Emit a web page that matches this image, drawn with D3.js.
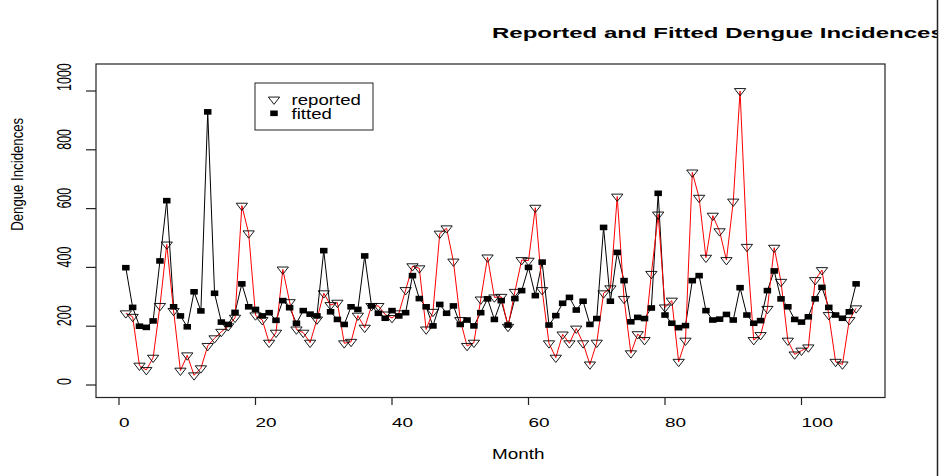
<!DOCTYPE html>
<html><head><meta charset="utf-8">
<script src="https://cdn.jsdelivr.net/npm/d3@7/dist/d3.min.js"></script>
<style>body{margin:0;background:#fff}svg{display:block}text{font-family:"Liberation Sans",Arial,sans-serif;fill:#000}</style>
</head><body>
<script>
const months = d3.range(1, 109);
const reported = [244,232,66,51,93,269,478,252,49,101,33,57,133,159,181,200,229,610,516,237,221,144,178,393,282,189,178,144,223,312,272,280,142,147,236,195,269,269,240,228,244,323,404,397,189,249,515,533,420,221,133,144,291,434,298,300,198,317,425,423,603,323,142,93,172,142,192,142,70,144,312,329,641,293,108,173,153,378,580,264,287,79,151,723,637,433,576,523,425,624,1000,470,153,170,259,467,351,151,104,117,128,357,391,238,79,70,221,261];
const fitted = [399,264,200,196,218,422,627,266,235,198,317,252,929,312,214,206,247,344,266,257,235,246,220,287,263,210,253,241,235,457,249,223,206,266,257,439,269,244,227,253,235,246,372,294,266,201,274,244,269,206,221,201,246,293,223,287,204,294,321,400,304,418,204,236,278,298,255,285,206,226,536,285,451,355,215,230,226,262,652,238,210,195,202,355,372,253,221,224,240,221,331,238,210,219,321,388,293,266,223,214,232,293,332,264,238,227,249,344];
const xTicks = [0,20,40,60,80,100];
const yTicks = [0,200,400,600,800,1000];
const titleText = "Reported and Fitted Dengue Incidences";
const xLabel = "Month", yLabel = "Dengue Incidences";
const legendLabels = ["reported","fitted"];

const W = 942, H = 476;
const svg = d3.select("body").append("svg").attr("width", W).attr("height", H);
const box = {l:96, r:885, t:64, b:397.5};
const x = d3.scaleLinear().domain([0,100]).range([119, 801.5]);
const y = d3.scaleLinear().domain([0,1000]).range([385, 91]);

svg.append("defs").append("clipPath").attr("id","clipT").append("rect").attr("x",0).attr("y",0).attr("width",937).attr("height",H);

// title (cut at the right edge as in the reference)
svg.append("g").attr("clip-path","url(#clipT)")
  .append("text").attr("transform","translate(492,38) scale(1.6,1)")
  .attr("font-size",15).attr("font-weight","bold").text(titleText);

// box
svg.append("rect").attr("x",box.l).attr("y",box.t).attr("width",box.r-box.l).attr("height",box.b-box.t)
  .attr("fill","none").attr("stroke","#222").attr("stroke-width",1.2);

// x axis ticks
const gx = svg.append("g");
gx.selectAll("line").data(xTicks).join("line")
  .attr("x1",d=>x(d)).attr("x2",d=>x(d)).attr("y1",box.b).attr("y2",405)
  .attr("stroke","#222").attr("stroke-width",1.2);
gx.selectAll("text").data(xTicks).join("text")
  .attr("transform",d=>`translate(${x(d)},426.5) scale(1.58,1)`)
  .attr("font-size",12).text(d=>d);

// y axis ticks
const gy = svg.append("g");
gy.selectAll("line").data(yTicks).join("line")
  .attr("x1",86).attr("x2",box.l).attr("y1",d=>y(d)).attr("y2",d=>y(d))
  .attr("stroke","#222").attr("stroke-width",1.2);
gy.selectAll("text").data(yTicks).join("text")
  .attr("transform",d=>`translate(71,${y(d)}) scale(1.6,1) rotate(-90)`)
  .attr("font-size",12.5).text(d=>d);

// axis labels
svg.append("text").attr("transform","translate(492,459) scale(1.35,1)").attr("font-size",14).text(xLabel);
svg.append("text").attr("transform",`translate(23.3,${(box.t+box.b)/2}) scale(1.3,1) rotate(-90)`).attr("font-size",13.2).text(yLabel);

// lines
const line = d3.line().x((d,i)=>x(months[i])).y(d=>y(d));
svg.append("path").datum(fitted).attr("d",line).attr("fill","none").attr("stroke","#000").attr("stroke-width",1);
svg.append("path").datum(reported).attr("d",line).attr("fill","none").attr("stroke","#ff0000").attr("stroke-width",1);

// markers
const sqW = 7.5, sqH = 5.6;
svg.append("g").selectAll("rect").data(fitted).join("rect")
  .attr("x",(d,i)=>x(months[i])-sqW/2).attr("y",d=>y(d)-sqH/2).attr("width",sqW).attr("height",sqH).attr("fill","#000");
const r = 4.87, hw = 5.65;
const tri = (cx,cy)=>`M${cx},${cy+r}L${cx+hw},${cy-r/2}L${cx-hw},${cy-r/2}Z`;
svg.append("g").selectAll("path").data(reported).join("path")
  .attr("d",(d,i)=>tri(x(months[i]), y(d)))
  .attr("fill","none").attr("stroke","#000").attr("stroke-width",0.9);

// legend
svg.append("rect").attr("x",255).attr("y",83).attr("width",118).attr("height",47).attr("fill","#fff").attr("stroke","#222").attr("stroke-width",1);
svg.append("path").attr("d",tri(274,99.5)).attr("fill","none").attr("stroke","#000").attr("stroke-width",0.9);
svg.append("rect").attr("x",274-sqW/2).attr("y",113.3-sqH/2).attr("width",sqW).attr("height",sqH).attr("fill","#000");
svg.append("g").selectAll("text").data(legendLabels).join("text")
  .attr("transform",(d,i)=>`translate(291.5,${105+i*14.3}) scale(1.33,1)`)
  .attr("font-size",14).text(d=>d);

// right edge line
svg.append("line").attr("x1",937.5).attr("x2",937.5).attr("y1",0).attr("y2",H).attr("stroke","#222").attr("stroke-width",1.5);
</script>
</body></html>
